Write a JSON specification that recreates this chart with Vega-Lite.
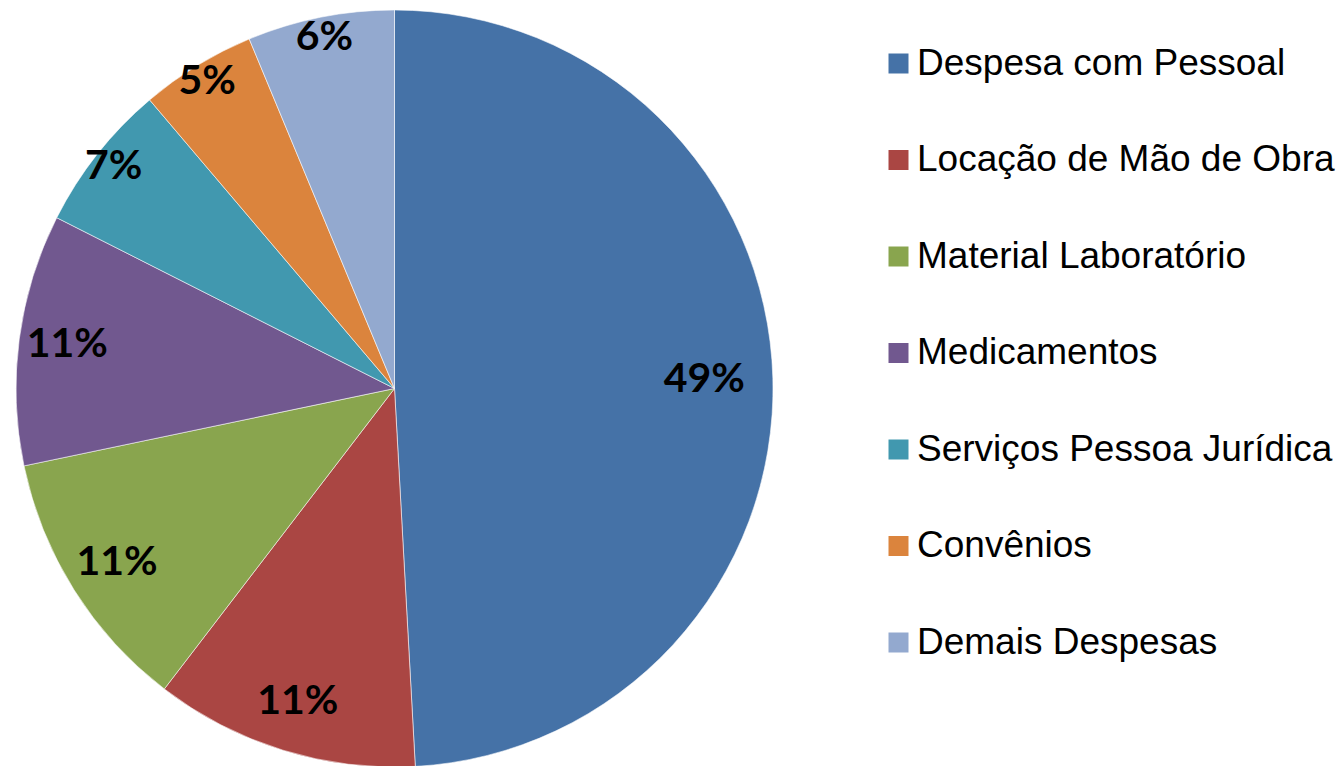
{
  "$schema": "https://vega.github.io/schema/vega-lite/v6.json",
  "width": 789,
  "height": 777,
  "autosize": {"type": "none"},
  "padding": {"left": 0, "top": 0, "right": 553, "bottom": 0},
  "background": "white",
  "view": {"stroke": null},
  "data": {
    "values": [
      {"idx": 1, "cat": "Despesa com Pessoal", "value": 49.13, "label": "49%"},
      {"idx": 2, "cat": "Locação de Mão de Obra", "value": 11.28, "label": "11%"},
      {"idx": 3, "cat": "Material Laboratório", "value": 11.32, "label": "11%"},
      {"idx": 4, "cat": "Medicamentos", "value": 10.73, "label": "11%"},
      {"idx": 5, "cat": "Serviços Pessoa Jurídica", "value": 6.35, "label": "7%"},
      {"idx": 6, "cat": "Convênios", "value": 4.93, "label": "5%"},
      {"idx": 7, "cat": "Demais Despesas", "value": 6.27, "label": "6%"}
    ]
  },
  "encoding": {
    "theta": {"field": "value", "type": "quantitative", "stack": true},
    "order": {"field": "idx", "type": "quantitative"},
    "color": {
      "field": "cat",
      "type": "nominal",
      "sort": ["Despesa com Pessoal", "Locação de Mão de Obra", "Material Laboratório", "Medicamentos", "Serviços Pessoa Jurídica", "Convênios", "Demais Despesas"],
      "scale": {
        "domain": ["Despesa com Pessoal", "Locação de Mão de Obra", "Material Laboratório", "Medicamentos", "Serviços Pessoa Jurídica", "Convênios", "Demais Despesas"],
        "range": ["#4572A7", "#AA4643", "#89A54E", "#71588F", "#4198AF", "#DB843D", "#93A9CF"]
      },
      "legend": {
        "orient": "none",
        "legendX": 880,
        "legendY": 45,
        "title": null,
        "padding": 0,
        "symbolType": "square",
        "symbolSize": 400,
        "symbolStrokeWidth": 0,
        "symbolOpacity": 1,
        "labelFont": "Liberation Sans",
        "labelFontSize": 37,
        "labelColor": "black",
        "labelOffset": 0,
        "labelLimit": 800,
        "rowPadding": 58.5
      }
    }
  },
  "layer": [
    {
      "mark": {"type": "arc", "outerRadius": 378.5, "stroke": "white", "strokeWidth": 0.7, "strokeOpacity": 0.8}
    },
    {
      "mark": {"type": "text", "font": "Lato", "fontWeight": "bold", "fontSize": 41, "align": "center", "baseline": "middle"},
      "encoding": {
        "text": {"field": "label", "type": "nominal"},
        "color": {"value": "black"},
        "radius": {
          "field": "value",
          "type": "quantitative",
          "scale": {"type": "linear", "domain": [5, 7, 11, 49], "range": [359, 357, 328, 310], "zero": false}
        }
      }
    }
  ]
}
